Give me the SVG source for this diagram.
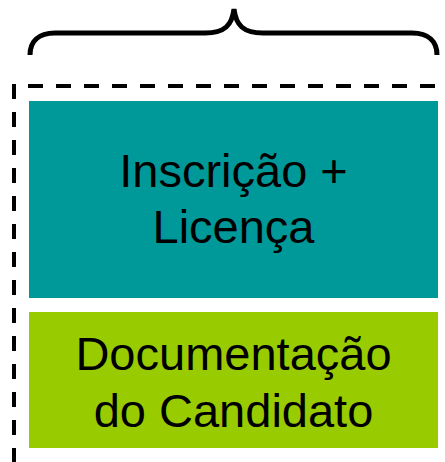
<svg xmlns="http://www.w3.org/2000/svg" width="445" height="462" viewBox="0 0 445 462">
<style>
.lbl{font-family:"Liberation Sans",Arial,sans-serif;font-size:47px;fill:#000;text-anchor:middle}
.dash{fill:none;stroke:#000;stroke-width:4;stroke-dasharray:15 13}
</style>
<rect width="445" height="462" fill="#fff"/>
<g id="brace">
<path d="M30,55 C30,42 38,33 55,33 L205,33 C225,33 232,25 234,9 C236,25 243,33 263,33 L412,33 C429,33 437,42 437,55" fill="none" stroke="#000" stroke-width="5"/>
</g>
<g id="container">
<path class="dash" d="M14,84 L14,462"/>
<path class="dash" d="M28,86 L437,86"/>
</g>
<g id="node-inscricao">
<rect x="29" y="101" width="409" height="197" fill="#009999"/>
<text class="lbl" x="233.5" y="187">Inscrição +</text>
<text class="lbl" x="233.5" y="243">Licença</text>
</g>
<g id="node-documentacao">
<rect x="29" y="312" width="409" height="136" fill="#99CC00"/>
<text class="lbl" x="233.5" y="370">Documentação</text>
<text class="lbl" x="233.5" y="427">do Candidato</text>
</g>
<g id="connectors"></g>
</svg>
